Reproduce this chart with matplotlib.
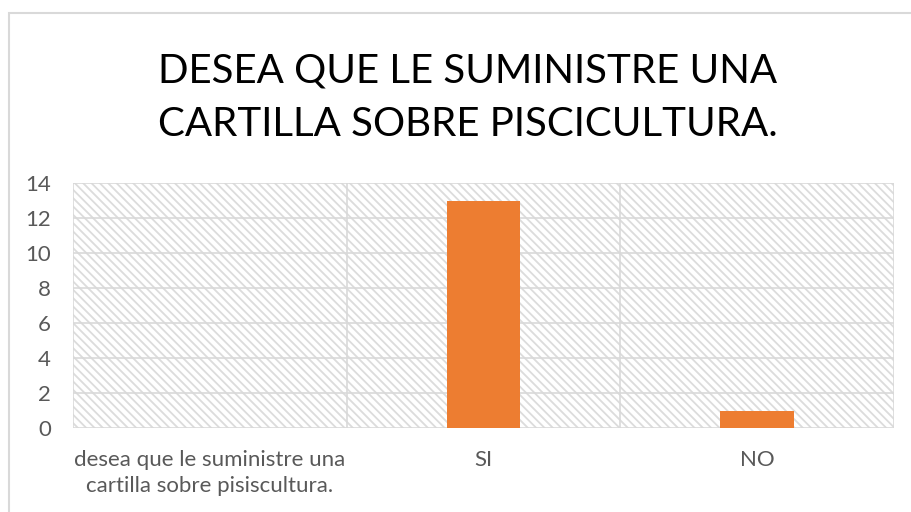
import matplotlib.pyplot as plt
from matplotlib.patches import Rectangle

# Datos del gráfico
categorias = ['desea que le suministre una\ncartilla sobre pisiscultura.', 'SI', 'NO']
valores = [0, 13, 1]
ticks_y = [0, 2, 4, 6, 8, 10, 12, 14]

plt.rcParams['font.family'] = ['Lato', 'DejaVu Sans']
plt.rcParams['hatch.linewidth'] = 1.3

fig = plt.figure(figsize=(9.12, 5.12), dpi=100)

# borde exterior del gráfico
fig.add_artist(Rectangle((9 / 912, -0.1), 1.2, 1 - 13 / 512 + 0.1, transform=fig.transFigure,
                         facecolor='none', edgecolor='#d9d9d9', lw=1.5))

ax = fig.add_axes([73 / 912, 1 - 428 / 512, (894 - 73) / 912, (428 - 183) / 512])

# fondo con rayado diagonal
ax.patch.set_facecolor('white')
ax.add_patch(Rectangle((0, 0), 1, 1, transform=ax.transAxes, facecolor='white',
                       edgecolor='#dcdcdc', hatch='\\\\\\\\', lw=0, zorder=0))

x = range(len(categorias))
ax.bar(x, valores, width=0.27, color='#ED7D31', zorder=3)

ax.set_xlim(-0.5, 2.5)
ax.set_ylim(0, 14)
ax.set_yticks(ticks_y)
ax.set_xticks(list(x))
ax.set_xticklabels(categorias, linespacing=1.35)

# rejilla
for t in ticks_y:
    ax.axhline(t, color='#d9d9d9', lw=1.2, zorder=1)
for xv in [-0.5, 0.5, 1.5, 2.5]:
    ax.axvline(xv, color='#d9d9d9', lw=1.2, zorder=1)

for s in ax.spines.values():
    s.set_visible(False)
ax.tick_params(length=0, labelsize=16, labelcolor='#595959')
ax.tick_params(axis='y', pad=16)
ax.tick_params(axis='x', pad=16)

fig.text(0.513, 0.81, 'DESEA QUE LE SUMINISTRE UNA\nCARTILLA SOBRE PISCICULTURA.',
         ha='center', va='center', fontsize=29, color='black', linespacing=1.55)

fig.savefig('out.png', dpi=100)
